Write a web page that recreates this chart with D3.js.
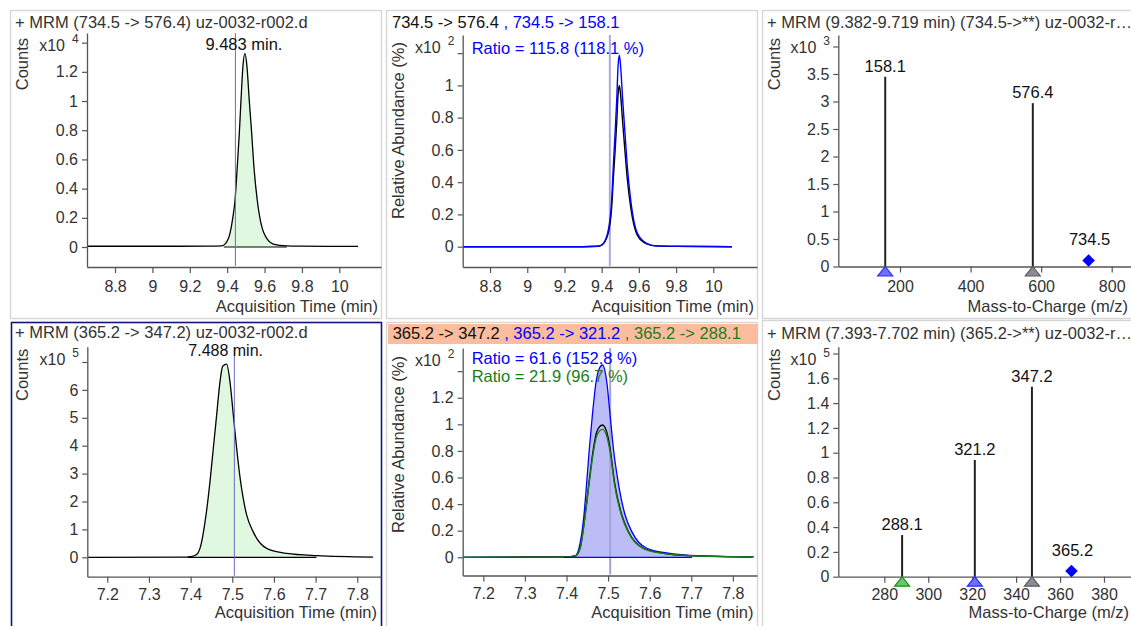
<!DOCTYPE html>
<html><head><meta charset="utf-8">
<script src="https://cdn.jsdelivr.net/npm/d3@7"></script>
<style>
body{margin:0;background:#fff;}
svg{display:block;font-family:"Liberation Sans",Arial,Helvetica,sans-serif;}
</style></head><body>
<svg id="c" width="1131" height="626"></svg>
<script>
// ---------------- DATA ----------------
// Panel 1: EIC 734.5 -> 576.4, counts (x10^4) vs acquisition time (min)
const eic734_576 = [[8.65,0.005],[9.0,0.005],[9.3,0.006],[9.37,0.008],[9.388,0.02],[9.415,0.094],[9.43,0.2],[9.442,0.32],[9.454,0.55],[9.465,0.78],[9.474,1.007],[9.484,1.235],[9.495,1.327],[9.506,1.235],[9.518,1.007],[9.531,0.78],[9.543,0.55],[9.561,0.32],[9.597,0.094],[9.647,0.02],[9.718,0.008],[9.8,0.006],[10.10,0.004]];
// Panel 2: overlay, relative abundance (x10^2 %)
const rel734_576 = [[8.653,0],[9.3,0],[9.38,0.003],[9.40,0.01],[9.432,0.07],[9.454,0.245],[9.4625,0.418],[9.472,0.59],[9.481,0.77],[9.488,0.94],[9.495,1.0],[9.502,0.94],[9.513,0.77],[9.5254,0.59],[9.538,0.418],[9.556,0.245],[9.592,0.07],[9.642,0.018],[9.696,0.005],[9.8,0.002],[10.10,0]];
const rel734_158 = [[8.653,0],[9.3,0],[9.38,0.003],[9.40,0.01],[9.432,0.083],[9.454,0.29],[9.4625,0.496],[9.472,0.703],[9.481,0.91],[9.488,1.116],[9.495,1.188],[9.502,1.116],[9.513,0.91],[9.5254,0.703],[9.538,0.496],[9.556,0.29],[9.592,0.083],[9.642,0.021],[9.696,0.004],[9.8,0.003],[10.10,0]];
// Panel 3: MS spectrum 734.5->** (x10^3 counts)
const spec734Mz = [158.1, 576.4];
const spec734Counts = [3.45, 2.97];
const spec734Kind = ["qual1", "quant"];
const prec734 = [734.5, 0.11];
// Panel 4: EIC 365.2 -> 347.2, counts (x10^5)
const eic365_347 = [[7.152,0],[7.39,0.005],[7.40,0.02],[7.4145,0.1],[7.4225,0.32],[7.437,1.52],[7.4465,2.71],[7.4545,3.91],[7.4625,5.10],[7.4705,6.29],[7.477,6.85],[7.4865,6.92],[7.4945,6.29],[7.5025,5.10],[7.5105,3.91],[7.520,2.71],[7.5345,1.52],[7.550,0.92],[7.5825,0.32],[7.6305,0.14],[7.7025,0.06],[7.838,0.01]];
// Panel 5: overlay, relative abundance (x10^2 %)
const rel365_321 = [[7.1505,0],[7.40,0.003],[7.4206,0.01],[7.430,0.068],[7.442,0.318],[7.4487,0.569],[7.455,0.82],[7.4622,1.07],[7.4711,1.32],[7.479,1.42],[7.4863,1.446],[7.4968,1.32],[7.5048,1.07],[7.5127,0.82],[7.524,0.569],[7.5409,0.318],[7.557,0.193],[7.593,0.068],[7.649,0.03],[7.7133,0.0125],[7.8457,0.003]];
const rel365_347 = [[7.1505,0],[7.40,0.003],[7.421,0.01],[7.4326,0.068],[7.4447,0.318],[7.4543,0.569],[7.4647,0.82],[7.4728,0.945],[7.4863,0.995],[7.4965,0.945],[7.5048,0.82],[7.5152,0.569],[7.533,0.318],[7.5488,0.193],[7.585,0.068],[7.633,0.03],[7.697,0.0125],[7.85,0.003]];
const rel365_288 = [[7.1505,0],[7.40,0.003],[7.421,0.01],[7.4326,0.066],[7.4447,0.307],[7.4543,0.55],[7.4647,0.793],[7.4728,0.914],[7.4863,0.962],[7.4965,0.914],[7.5048,0.793],[7.5152,0.55],[7.533,0.307],[7.5488,0.187],[7.585,0.066],[7.633,0.029],[7.697,0.012],[7.85,0.003]];
// Panel 6: MS spectrum 365.2->** (x10^5 counts)
const spec365Mz = [288.1, 321.2, 347.2];
const spec365Counts = [0.336, 0.941, 1.532];
const spec365Kind = ["qual2", "qual1", "quant"];
const prec365 = [365.2, 0.046];
// integration windows & retention markers (min)
const window734 = [9.382, 9.719];
const window365 = [7.393, 7.702];
const rtMarker734 = 9.444;
const rtMarker365 = 7.505;
// tick values
const xTicks734 = [8.8, 9, 9.2, 9.4, 9.6, 9.8, 10];
const xTicks365 = [7.2, 7.3, 7.4, 7.5, 7.6, 7.7, 7.8];
const yTicksP1 = [0, 0.2, 0.4, 0.6, 0.8, 1, 1.2, 1.4];
const yTicksP2 = [0, 0.2, 0.4, 0.6, 0.8, 1, 1.2];
const yTicksP3 = [0, 0.5, 1, 1.5, 2, 2.5, 3, 3.5, 4];
const xTicksP3 = [200, 400, 600, 800];
const yTicksP4 = [0, 1, 2, 3, 4, 5, 6, 7];
const yTicksP5 = [0, 0.2, 0.4, 0.6, 0.8, 1, 1.2, 1.4];
const yTicksP6 = [0, 0.2, 0.4, 0.6, 0.8, 1, 1.2, 1.4, 1.6, 1.8];
const xTicksP6 = [280, 300, 320, 340, 360, 380];

// ---------------- STYLE ----------------
const BLUE = "#0000ff", GREEN = "#1a7d1a", TXT = "#333", AX = "#555";
const FS = "16px", FT = "16.5px";
const kindStyle = {
  quant: {fill: "#8c8c94", stroke: "#5a5a62"},
  qual1: {fill: "#6f6ff5", stroke: "#2a2aff"},
  qual2: {fill: "#6cc56c", stroke: "#1f8a1f"}
};
const svg = d3.select("#c");
const fmt = d3.format("~g");
let clipId = 0;

function frame(x, y, w, h, selected) {
  svg.append("rect").attr("x", x + 0.5).attr("y", y + 0.5).attr("width", w).attr("height", h)
    .attr("fill", "#fff").attr("stroke", selected ? "#14147a" : "#d6d6d6").attr("stroke-width", selected ? 1.6 : 1.4);
}

function makePanel(o) {
  const xs = d3.scaleLinear().domain(o.xd).range([o.x0, o.x1]);
  const ys = d3.scaleLinear().domain(o.yd).range([o.y1, o.y0]);
  const g = svg.append("g");
  const yt = o.yTicks;
  const ya = g.append("g").attr("transform", `translate(${o.x0},0)`)
    .call(d3.axisLeft(ys).tickValues(yt).tickSize(5).tickSizeOuter(0).tickPadding(4)
      .tickFormat((d, i) => i === yt.length - 1 ? "" : fmt(d)));
  const xa = g.append("g").attr("transform", `translate(0,${o.y1})`)
    .call(d3.axisBottom(xs).tickValues(o.xTicks).tickSize(6).tickSizeOuter(0).tickPadding(o.xPad).tickFormat(fmt));
  [ya, xa].forEach(a => {
    a.selectAll("path.domain").attr("stroke", AX).attr("stroke-width", 1.3);
    a.selectAll(".tick line").attr("stroke", AX).attr("stroke-width", 1.2);
    a.selectAll(".tick text").attr("fill", TXT).style("font-size", FS).style("font-family", "Liberation Sans, Arial, sans-serif");
  });
  g.append("text").attr("x", o.x0 - 22).attr("y", o.y0 + 18).attr("text-anchor", "end")
    .attr("fill", TXT).style("font-size", FS).text("x10");
  g.append("text").attr("x", o.x0 - 15).attr("y", o.y0 + 10).attr("text-anchor", "start")
    .attr("fill", TXT).style("font-size", "12px").text(o.exp);
  g.append("text").attr("transform", `translate(${o.yTitleX},${o.y0 + o.yTitleOff}) rotate(-90)`)
    .attr("text-anchor", "end").attr("fill", TXT).style("font-size", FT).text(o.yTitle);
  g.append("text").attr("x", o.xTitleX).attr("y", o.xTitleY).attr("text-anchor", "end")
    .attr("fill", TXT).style("font-size", FT).text(o.xTitle);
  const id = "clip" + (clipId++);
  svg.append("clipPath").attr("id", id).append("rect")
    .attr("x", o.x0 + 1).attr("y", o.y0).attr("width", o.x1 - o.x0 - 1).attr("height", o.y1 - o.y0 - 1);
  const plot = svg.append("g").attr("clip-path", `url(#${id})`);
  return {xs, ys, plot, g};
}

const lineGen = (xs, ys) => d3.line().x(d => xs(d[0])).y(d => ys(d[1])).curve(d3.curveMonotoneX);
const areaGen = (xs, ys) => d3.area().x(d => xs(d[0])).y0(ys(0)).y1(d => ys(d[1])).curve(d3.curveMonotoneX);

function windowClip(xs, ys, win, o) {
  const id = "clip" + (clipId++);
  svg.append("clipPath").attr("id", id).append("rect")
    .attr("x", xs(win[0])).attr("y", o.y0).attr("width", xs(win[1]) - xs(win[0])).attr("height", o.y1 - o.y0);
  return id;
}

function chromPanel(o, series, win, rt, peakLabel) {
  const {xs, ys, plot} = makePanel(o);
  const id = windowClip(xs, ys, win, o);
  plot.append("path").datum(series).attr("clip-path", `url(#${id})`)
    .attr("d", areaGen(xs, ys)).attr("fill", "#dff8df");
  plot.append("line").attr("x1", xs(win[0])).attr("x2", xs(win[1])).attr("y1", ys(0)).attr("y2", ys(0))
    .attr("stroke", "#000").attr("stroke-width", 1.2);
  plot.append("path").datum(series).attr("d", lineGen(xs, ys)).attr("fill", "none")
    .attr("stroke", "#000").attr("stroke-width", 1.3);
  plot.append("line").attr("x1", xs(rt)).attr("x2", xs(rt)).attr("y1", o.y0).attr("y2", o.y1)
    .attr("stroke", "#6b6bc4").attr("stroke-width", 1);
  const apex = series.reduce((a, b) => b[1] > a[1] ? b : a);
  svg.append("text").attr("x", xs(apex[0]) - 1).attr("y", o.labelY).attr("text-anchor", "middle")
    .attr("fill", "#111").style("font-size", o.labelFs).text(peakLabel);
}

function specPanel(o, mz, counts, kinds, prec) {
  const {xs, ys, g} = makePanel(o);
  mz.forEach((m, i) => {
    g.append("line").attr("x1", xs(m)).attr("x2", xs(m)).attr("y1", ys(0)).attr("y2", ys(counts[i]))
      .attr("stroke", "#222").attr("stroke-width", 2);
    g.append("text").attr("x", xs(m)).attr("y", ys(counts[i]) - 5).attr("text-anchor", "middle")
      .attr("fill", "#111").style("font-size", FT).text(m.toFixed(1));
  });
  mz.forEach((m, i) => {
    const cx = xs(m), cy = ys(0), st = kindStyle[kinds[i]];
    g.append("path").attr("d", `M${cx},${cy}L${cx + 7.5},${cy + 9.5}L${cx - 7.5},${cy + 9.5}Z`)
      .attr("fill", st.fill).attr("stroke", st.stroke).attr("stroke-width", 1.2);
  });
  const px = xs(prec[0]), py = ys(prec[1]);
  g.append("path").attr("d", `M${px},${py - 6.3}L${px + 6.3},${py}L${px},${py + 6.3}L${px - 6.3},${py}Z`)
    .attr("fill", BLUE);
  g.append("text").attr("x", px + 1).attr("y", py - 15).attr("text-anchor", "middle")
    .attr("fill", "#111").style("font-size", FT).text(prec[0].toFixed(1));
}

function title(x, y, text) {
  svg.append("text").attr("x", x).attr("y", y).attr("fill", TXT).style("font-size", FT).text(text);
}
function multiTitle(x, y, parts) {
  const t = svg.append("text").attr("x", x).attr("y", y).style("font-size", FT);
  parts.forEach(p => t.append("tspan").attr("fill", p[1]).text(p[0]));
}

// ---------------- FRAMES ----------------
frame(10, 10, 371, 308, false);
frame(386, 10, 371, 308, false);
frame(762, 10, 372, 308, false);
frame(11, 322, 370, 310, true);
frame(386, 322, 371, 310, false);
frame(762, 320, 372, 312, false);
svg.append("rect").attr("x", 388).attr("y", 324).attr("width", 370).attr("height", 20).attr("fill", "#fbbd9e");

// ---------------- PANEL 1 ----------------
title(15, 27.5, "+ MRM (734.5 -> 576.4) uz-0032-r002.d");
chromPanel({x0: 87, x1: 381, y0: 33, y1: 267, xd: [8.65, 10.223], yd: [-0.137, 1.466], xPad: 8,
  xTicks: xTicks734, yTicks: yTicksP1, exp: "4", yTitle: "Counts", yTitleX: 28, yTitleOff: 5,
  xTitle: "Acquisition Time (min)", xTitleX: 378, xTitleY: 311.5, labelY: 50, labelFs: FT},
  eic734_576, window734, rtMarker734, "9.483 min.");

// ---------------- PANEL 2 ----------------
multiTitle(392, 27.5, [["734.5 -> 576.4", "#111"], [" , 734.5 -> 158.1", BLUE]]);
(function () {
  const o = {x0: 462.7, x1: 757, y0: 35, y1: 267, xd: [8.653, 10.235], yd: [-0.126, 1.3125], xPad: 8,
    xTicks: xTicks734, yTicks: yTicksP2, exp: "2", yTitle: "Relative Abundance (%)", yTitleX: 404, yTitleOff: 7,
    xTitle: "Acquisition Time (min)", xTitleX: 754, xTitleY: 311.5};
  const {xs, ys, plot} = makePanel(o);
  plot.append("line").attr("x1", xs(rtMarker734)).attr("x2", xs(rtMarker734)).attr("y1", o.y0).attr("y2", o.y1)
    .attr("stroke", "#a9a9db").attr("stroke-width", 2);
  plot.append("path").datum(rel734_576).attr("d", lineGen(xs, ys)).attr("fill", "none").attr("stroke", "#000").attr("stroke-width", 1.4);
  plot.append("path").datum(rel734_158).attr("d", lineGen(xs, ys)).attr("fill", "none").attr("stroke", BLUE).attr("stroke-width", 1.4);
  svg.append("text").attr("x", 471.7).attr("y", 53.5).attr("fill", BLUE).style("font-size", FT).text("Ratio = 115.8 (118.1 %)");
})();

// ---------------- PANEL 3 ----------------
title(767, 27.5, "+ MRM (9.382-9.719 min) (734.5->**) uz-0032-r\u2026");
specPanel({x0: 838.3, x1: 1131, y0: 35, y1: 266.5, xd: [25.1, 854.7], yd: [0, 4.209], xPad: 8,
  xTicks: xTicksP3, yTicks: yTicksP3, exp: "3", yTitle: "Counts", yTitleX: 780, yTitleOff: 3,
  xTitle: "Mass-to-Charge (m/z)", xTitleX: 1128, xTitleY: 311.5},
  spec734Mz, spec734Counts, spec734Kind, prec734);

// ---------------- PANEL 4 ----------------
title(15, 337.5, "+ MRM (365.2 -> 347.2) uz-0032-r002.d");
chromPanel({x0: 87.3, x1: 381, y0: 346.7, y1: 576.7, xd: [7.152, 7.857], yd: [-0.695, 7.548], xPad: 6,
  xTicks: xTicks365, yTicks: yTicksP4, exp: "5", yTitle: "Counts", yTitleX: 28, yTitleOff: 2,
  xTitle: "Acquisition Time (min)", xTitleX: 377, xTitleY: 618, labelY: 356, labelFs: FS},
  eic365_347, window365, rtMarker365, "7.488 min.");

// ---------------- PANEL 5 ----------------
multiTitle(392.7, 338.5, [["365.2 -> 347.2", "#111"], [" , 365.2 -> 321.2", BLUE], [" , 365.2 -> 288.1", GREEN]]);
(function () {
  const o = {x0: 462.7, x1: 757, y0: 348, y1: 575.5, xd: [7.1504, 7.858], yd: [-0.137, 1.574], xPad: 6,
    xTicks: xTicks365, yTicks: yTicksP5, exp: "2", yTitle: "Relative Abundance (%)", yTitleX: 404, yTitleOff: 8,
    xTitle: "Acquisition Time (min)", xTitleX: 753.5, xTitleY: 618};
  const {xs, ys, plot} = makePanel(o);
  const id = windowClip(xs, ys, window365, o);
  plot.append("path").datum(rel365_321).attr("clip-path", `url(#${id})`).attr("d", areaGen(xs, ys)).attr("fill", "#bcbcf7");
  plot.append("line").attr("x1", xs(rtMarker365)).attr("x2", xs(rtMarker365)).attr("y1", o.y0).attr("y2", o.y1)
    .attr("stroke", "#a3a3d6").attr("stroke-width", 2);
  plot.append("path").datum(rel365_321).attr("d", lineGen(xs, ys)).attr("fill", "none").attr("stroke", BLUE).attr("stroke-width", 1.3);
  plot.append("path").datum(rel365_347).attr("d", lineGen(xs, ys)).attr("fill", "none").attr("stroke", "#000").attr("stroke-width", 1.3);
  plot.append("path").datum(rel365_288).attr("d", lineGen(xs, ys)).attr("fill", "none").attr("stroke", GREEN).attr("stroke-width", 1.4);
  plot.append("line").attr("x1", xs(window365[0])).attr("x2", xs(window365[1])).attr("y1", ys(0)).attr("y2", ys(0))
    .attr("stroke", BLUE).attr("stroke-width", 1.3);
  svg.append("text").attr("x", 471.7).attr("y", 363.5).attr("fill", BLUE).style("font-size", FT).text("Ratio = 61.6 (152.8 %)");
  svg.append("text").attr("x", 471.7).attr("y", 382).attr("fill", GREEN).style("font-size", FT).text("Ratio = 21.9 (96.7 %)");
})();

// ---------------- PANEL 6 ----------------
title(767, 338.8, "+ MRM (7.393-7.702 min) (365.2->**) uz-0032-r\u2026");
specPanel({x0: 838.3, x1: 1131, y0: 346.7, y1: 576.7, xd: [259.05, 392.3], yd: [0, 1.855], xPad: 6,
  xTicks: xTicksP6, yTicks: yTicksP6, exp: "5", yTitle: "Counts", yTitleX: 780, yTitleOff: 2,
  xTitle: "Mass-to-Charge (m/z)", xTitleX: 1129, xTitleY: 618},
  spec365Mz, spec365Counts, spec365Kind, prec365);
</script>
</body></html>
